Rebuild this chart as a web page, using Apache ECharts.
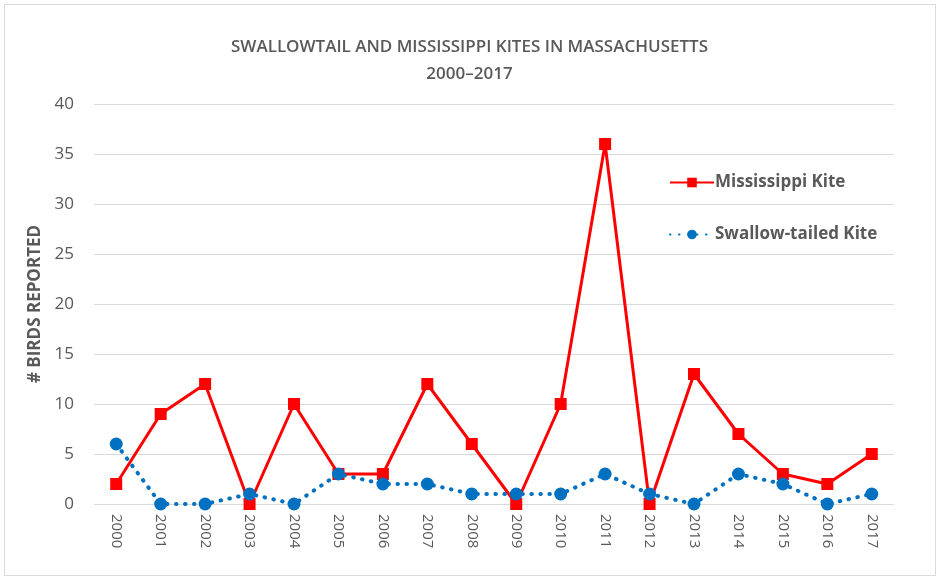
<!DOCTYPE html>
<html><head><meta charset="utf-8">
<script src="https://cdn.jsdelivr.net/npm/echarts@6/dist/echarts.min.js"></script>
<style>html,body{margin:0;padding:0;background:#fff}#c{width:939px;height:578px}</style>
</head><body><div id="c"></div>
<script>
const years = ['2000','2001','2002','2003','2004','2005','2006','2007','2008','2009','2010','2011','2012','2013','2014','2015','2016','2017'];
const mississippi = [2,9,12,0,10,3,3,12,6,0,10,36,0,13,7,3,2,5];
const swallowTailed = [6,0,0,1,0,3,2,2,1,1,1,3,1,0,3,2,0,1];
const yTicks = [0,5,10,15,20,25,30,35,40];

const FONT = '"Open Sans", sans-serif';
const chart = echarts.init(document.getElementById('c'));
chart.setOption({
  animation: false,
  backgroundColor: '#fff',
  graphic: [{type:'rect', shape:{x:4.5,y:4.5,width:931,height:571}, style:{fill:'none', stroke:'#d9d9d9', lineWidth:1}, silent:true}],
  title: {
    text: 'SWALLOWTAIL AND MISSISSIPPI KITES IN MASSACHUSETTS\n2000–2017',
    left: 'center', top: 29,
    textStyle: {fontFamily: FONT, fontSize: 17, fontWeight: 600, color: '#595959', lineHeight: 27}
  },
  legend: {
    orient: 'vertical', left: 664, top: 169, itemGap: 35,
    itemWidth: 44, itemHeight: 12,
    textStyle: {fontFamily: FONT, fontSize: 17, fontWeight: 'bold', color: '#595959', padding:[0,0,0,-4]},
    data: [
      {name: 'Mississippi Kite'},
      {name: 'Swallow-tailed Kite'}
    ]
  },
  grid: {left: 94, right: 45, top: 104, bottom: 74, containLabel: false},
  xAxis: {
    type: 'category', data: years, boundaryGap: true,
    axisLine: {show: false}, axisTick: {show: false},
    axisLabel: {rotate: -90, color: '#595959', fontFamily: FONT, fontSize: 15, margin: 10}
  },
  yAxis: {
    type: 'value', min: 0, max: 40, interval: 5,
    name: '# BIRDS REPORTED', nameLocation: 'middle', nameGap: 50,
    nameTextStyle: {fontFamily: FONT, fontSize: 17, fontWeight: 'bold', color: '#595959'},
    axisLine: {show: false}, axisTick: {show: false},
    axisLabel: {color: '#595959', fontFamily: FONT, fontSize: 17, margin: 20,
      formatter: v => yTicks.includes(v) ? String(v) : ''},
    splitLine: {lineStyle: {color: '#d9d9d9', width: 1}}
  },
  series: [
    {
      name: 'Mississippi Kite', type: 'line', data: mississippi,
      symbol: 'rect', symbolSize: 12, z: 2,
      lineStyle: {color: '#ff0000', width: 3},
      itemStyle: {color: '#ff0000'}
    },
    {
      name: 'Swallow-tailed Kite', type: 'line', data: swallowTailed,
      symbol: 'circle', symbolSize: 13, z: 3,
      lineStyle: {color: '#0070c0', width: 4, type: [0.5, 8.5], cap: 'round'},
      itemStyle: {color: '#0070c0'}
    }
  ]
});
</script></body></html>
